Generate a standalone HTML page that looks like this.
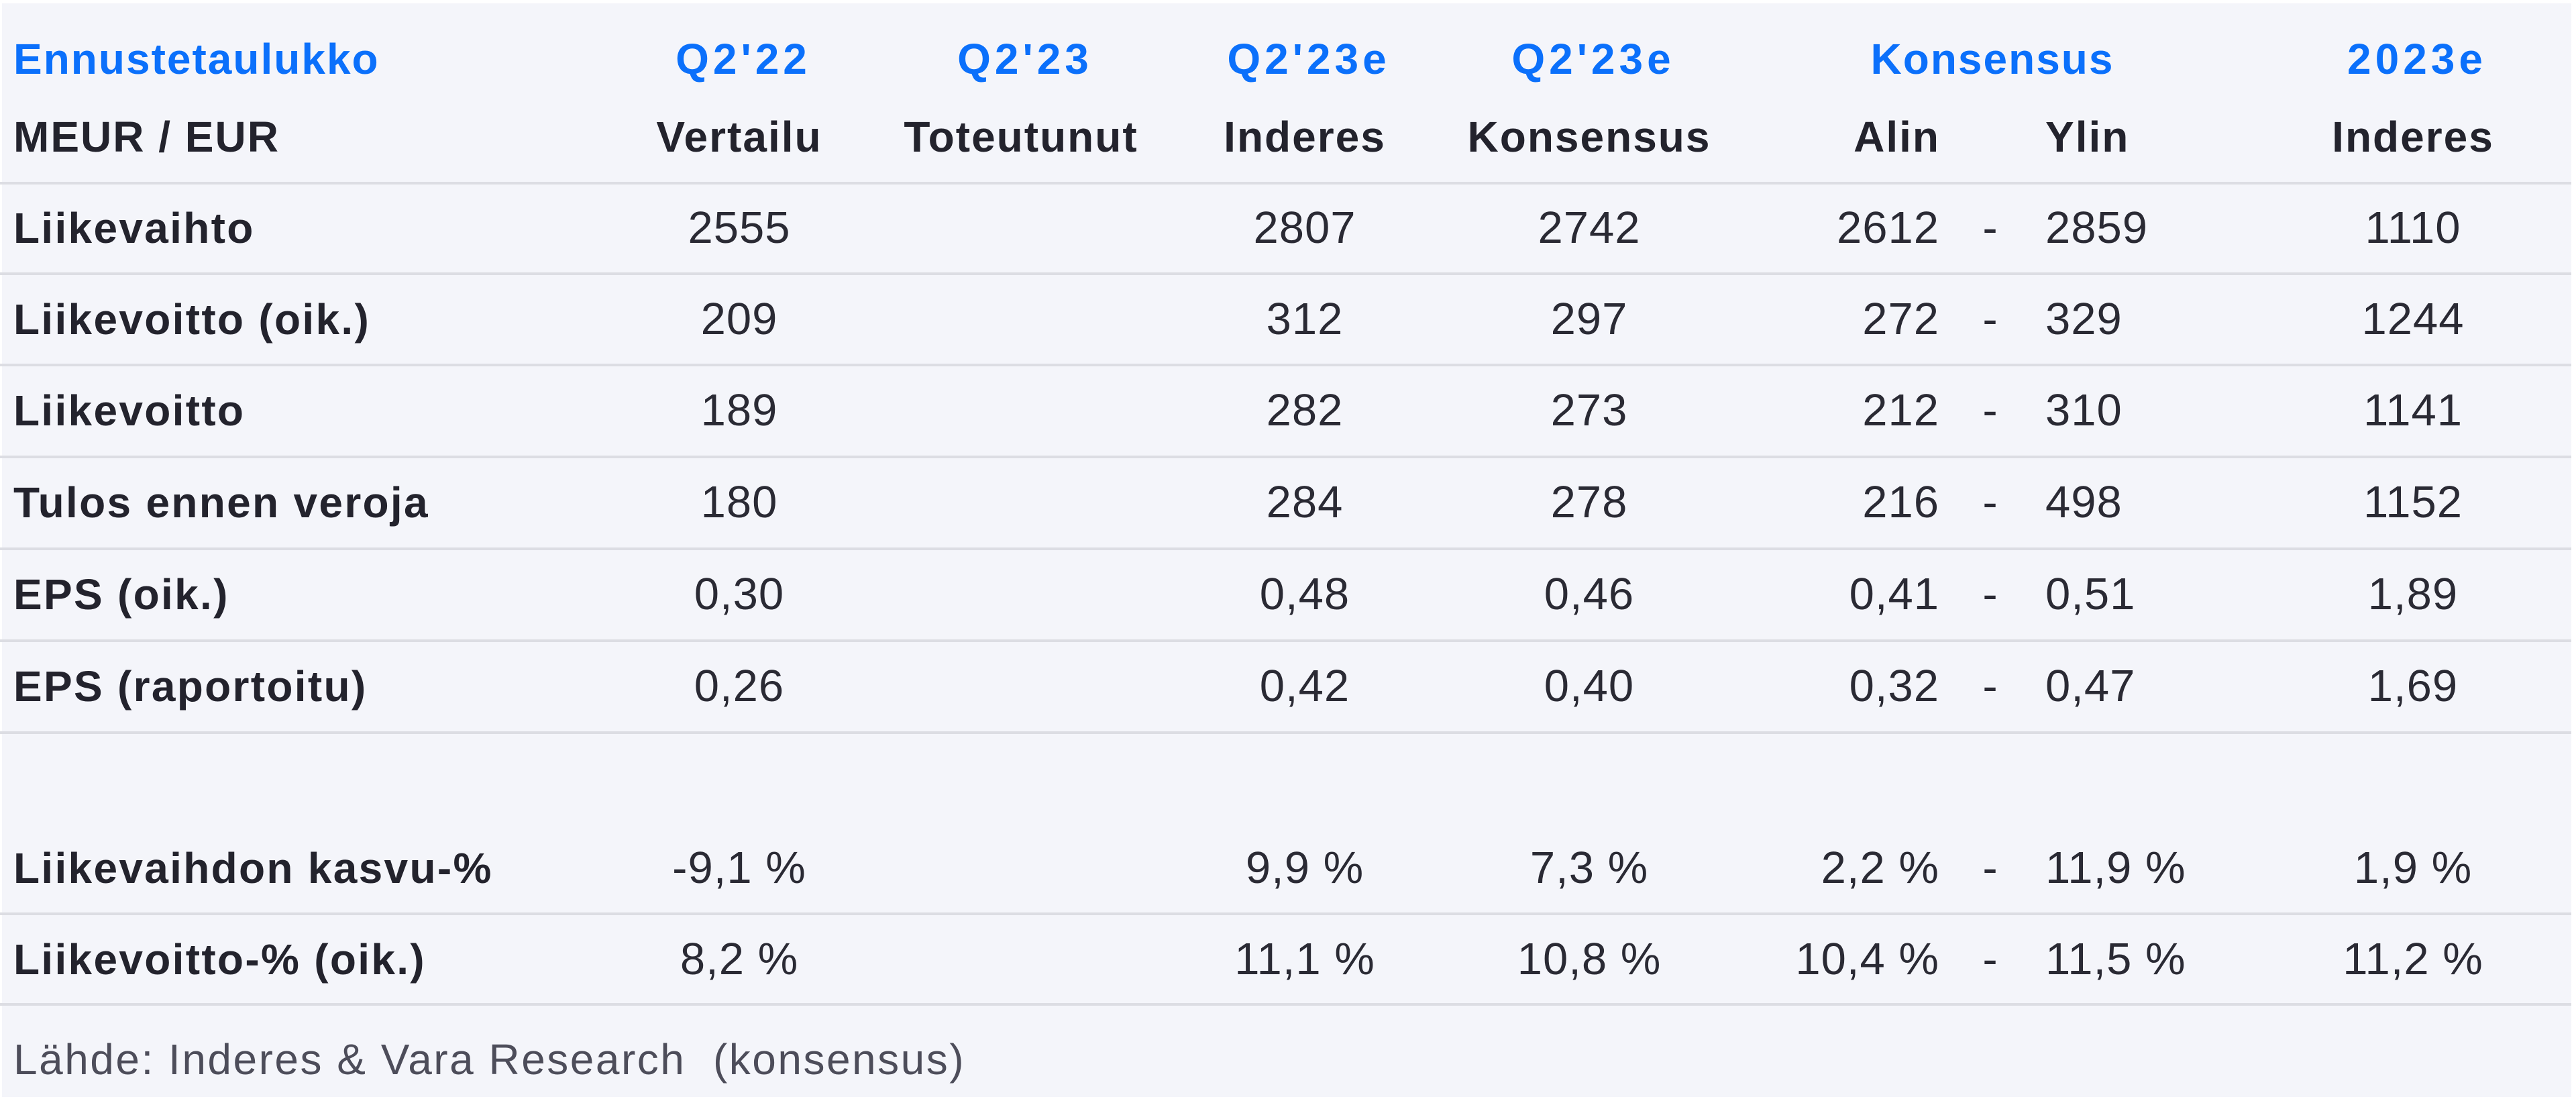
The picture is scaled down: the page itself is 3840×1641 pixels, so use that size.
<!DOCTYPE html>
<html>
<head>
<meta charset="utf-8">
<style>
  html, body { margin:0; padding:0; }
  body { width:3840px; height:1641px; background:#ffffff; position:relative; overflow:hidden;
         font-family:"Liberation Sans", Arial, sans-serif; }
  #bg { position:absolute; left:3px; top:5px; width:3830px; height:1630px; background:#f4f5fa; }
  .ln { position:absolute; left:0; width:3833px; height:4px; background:#dcdde3; }
  .t { position:absolute; height:100px; line-height:100px; white-space:pre; }
  .c { width:600px; text-align:center; }
  .r { width:500px; text-align:right; }
  .l { text-align:left; }
  .hb { font-weight:bold; font-size:64px; color:#0b70fb; letter-spacing:2px; }
  .hq { font-weight:bold; font-size:64px; color:#0b70fb; letter-spacing:6px; padding-left:6px; }
  .hd { font-weight:bold; font-size:64px; color:#23232d; letter-spacing:2px; }
  .lb { font-weight:bold; font-size:64px; color:#23232d; letter-spacing:2.3px; }
  .n { font-size:67px; color:#2a2a34; letter-spacing:1px; }
  .src { font-size:64px; color:#4d4d5a; letter-spacing:2.5px; }
</style>
</head>
<body>
<div id="bg"></div>

<!-- horizontal lines -->
<div class="ln" style="top:271px"></div>
<div class="ln" style="top:406px"></div>
<div class="ln" style="top:542px"></div>
<div class="ln" style="top:679px"></div>
<div class="ln" style="top:816px"></div>
<div class="ln" style="top:953px"></div>
<div class="ln" style="top:1090px"></div>
<div class="ln" style="top:1360px"></div>
<div class="ln" style="top:1495px"></div>

<!-- header row 1 (center y=88) -->
<div class="t l hb" style="left:20px; top:38px;">Ennustetaulukko</div>
<div class="t c hq" style="left:802px; top:38px;">Q2'22</div>
<div class="t c hq" style="left:1222px; top:38px;">Q2'23</div>
<div class="t c hq" style="left:1645px; top:38px;">Q2'23e</div>
<div class="t c hq" style="left:2069px; top:38px;">Q2'23e</div>
<div class="t c hb" style="left:2670px; top:38px;">Konsensus</div>
<div class="t c hq" style="left:3297px; top:38px;">2023e</div>

<!-- header row 2 (center y=204) -->
<div class="t l hd" style="left:20px; top:154px;">MEUR / EUR</div>
<div class="t c hd" style="left:802px; top:154px;">Vertailu</div>
<div class="t c hd" style="left:1222px; top:154px;">Toteutunut</div>
<div class="t c hd" style="left:1645px; top:154px;">Inderes</div>
<div class="t c hd" style="left:2069px; top:154px;">Konsensus</div>
<div class="t r hd" style="left:2392px; top:154px;">Alin</div>
<div class="t l hd" style="left:3049px; top:154px;">Ylin</div>
<div class="t c hd" style="left:3297px; top:154px;">Inderes</div>

<!-- Row: Liikevaihto (center 340) -->
<div class="t l lb" style="left:20px; top:290px;">Liikevaihto</div>
<div class="t c n" style="left:802px; top:290px;">2555</div>
<div class="t c n" style="left:1645px; top:290px;">2807</div>
<div class="t c n" style="left:2069px; top:290px;">2742</div>
<div class="t r n" style="left:2391px; top:290px;">2612</div>
<div class="t c n" style="left:2667px; top:290px;">-</div>
<div class="t l n" style="left:3049px; top:290px;">2859</div>
<div class="t c n" style="left:3297px; top:290px;">1110</div>

<!-- Row: Liikevoitto (oik.) (center 476) -->
<div class="t l lb" style="left:20px; top:426px;">Liikevoitto (oik.)</div>
<div class="t c n" style="left:802px; top:426px;">209</div>
<div class="t c n" style="left:1645px; top:426px;">312</div>
<div class="t c n" style="left:2069px; top:426px;">297</div>
<div class="t r n" style="left:2391px; top:426px;">272</div>
<div class="t c n" style="left:2667px; top:426px;">-</div>
<div class="t l n" style="left:3049px; top:426px;">329</div>
<div class="t c n" style="left:3297px; top:426px;">1244</div>

<!-- Row: Liikevoitto (center 612) -->
<div class="t l lb" style="left:20px; top:562px;">Liikevoitto</div>
<div class="t c n" style="left:802px; top:562px;">189</div>
<div class="t c n" style="left:1645px; top:562px;">282</div>
<div class="t c n" style="left:2069px; top:562px;">273</div>
<div class="t r n" style="left:2391px; top:562px;">212</div>
<div class="t c n" style="left:2667px; top:562px;">-</div>
<div class="t l n" style="left:3049px; top:562px;">310</div>
<div class="t c n" style="left:3297px; top:562px;">1141</div>

<!-- Row: Tulos ennen veroja (center 749) -->
<div class="t l lb" style="left:20px; top:699px;">Tulos ennen veroja</div>
<div class="t c n" style="left:802px; top:699px;">180</div>
<div class="t c n" style="left:1645px; top:699px;">284</div>
<div class="t c n" style="left:2069px; top:699px;">278</div>
<div class="t r n" style="left:2391px; top:699px;">216</div>
<div class="t c n" style="left:2667px; top:699px;">-</div>
<div class="t l n" style="left:3049px; top:699px;">498</div>
<div class="t c n" style="left:3297px; top:699px;">1152</div>

<!-- Row: EPS (oik.) (center 886) -->
<div class="t l lb" style="left:20px; top:836px;">EPS (oik.)</div>
<div class="t c n" style="left:802px; top:836px;">0,30</div>
<div class="t c n" style="left:1645px; top:836px;">0,48</div>
<div class="t c n" style="left:2069px; top:836px;">0,46</div>
<div class="t r n" style="left:2391px; top:836px;">0,41</div>
<div class="t c n" style="left:2667px; top:836px;">-</div>
<div class="t l n" style="left:3049px; top:836px;">0,51</div>
<div class="t c n" style="left:3297px; top:836px;">1,89</div>

<!-- Row: EPS (raportoitu) (center 1023) -->
<div class="t l lb" style="left:20px; top:973px;">EPS (raportoitu)</div>
<div class="t c n" style="left:802px; top:973px;">0,26</div>
<div class="t c n" style="left:1645px; top:973px;">0,42</div>
<div class="t c n" style="left:2069px; top:973px;">0,40</div>
<div class="t r n" style="left:2391px; top:973px;">0,32</div>
<div class="t c n" style="left:2667px; top:973px;">-</div>
<div class="t l n" style="left:3049px; top:973px;">0,47</div>
<div class="t c n" style="left:3297px; top:973px;">1,69</div>

<!-- Row: Liikevaihdon kasvu-% (center 1294) -->
<div class="t l lb" style="left:20px; top:1244px;">Liikevaihdon kasvu-%</div>
<div class="t c n" style="left:802px; top:1244px;">-9,1 %</div>
<div class="t c n" style="left:1645px; top:1244px;">9,9 %</div>
<div class="t c n" style="left:2069px; top:1244px;">7,3 %</div>
<div class="t r n" style="left:2391px; top:1244px;">2,2 %</div>
<div class="t c n" style="left:2667px; top:1244px;">-</div>
<div class="t l n" style="left:3049px; top:1244px;">11,9 %</div>
<div class="t c n" style="left:3297px; top:1244px;">1,9 %</div>

<!-- Row: Liikevoitto-% (oik.) (center 1430) -->
<div class="t l lb" style="left:20px; top:1380px;">Liikevoitto-% (oik.)</div>
<div class="t c n" style="left:802px; top:1380px;">8,2 %</div>
<div class="t c n" style="left:1645px; top:1380px;">11,1 %</div>
<div class="t c n" style="left:2069px; top:1380px;">10,8 %</div>
<div class="t r n" style="left:2391px; top:1380px;">10,4 %</div>
<div class="t c n" style="left:2667px; top:1380px;">-</div>
<div class="t l n" style="left:3049px; top:1380px;">11,5 %</div>
<div class="t c n" style="left:3297px; top:1380px;">11,2 %</div>

<!-- Source (center 1579) -->
<div class="t l src" style="left:20px; top:1529px;">Lähde: Inderes &amp; Vara Research  (konsensus)</div>
</body>
</html>
